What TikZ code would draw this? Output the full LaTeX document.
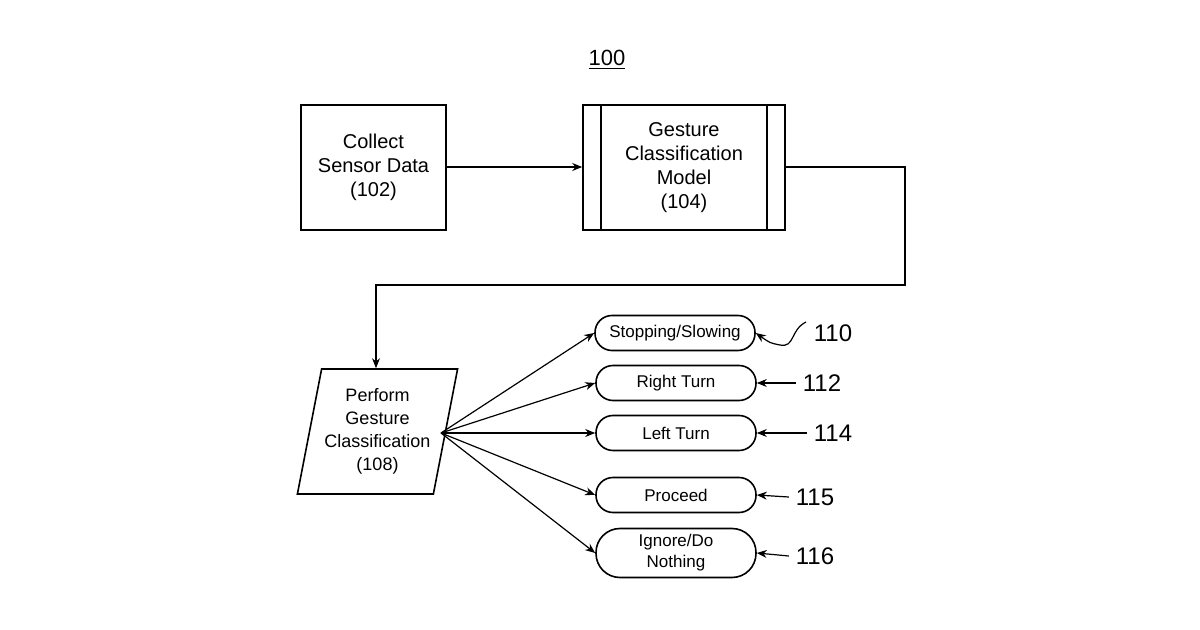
\documentclass[tikz,border=0pt]{standalone}
\usepackage{fontspec}
\setmainfont{Liberation Sans}
\usetikzlibrary{arrows.meta,shapes.geometric}
\begin{document}
\begin{tikzpicture}[x=0.5pt,y=-0.5pt,
  box/.style={draw,thick,minimum width=72.5pt,minimum height=62.5pt,align=center,font=\fontsize{10}{12}\selectfont,inner sep=0},
  pill/.style={draw,thick,rounded corners=8.5pt,minimum width=80pt,minimum height=17.5pt,align=center,font=\fontsize{8.5}{10.5}\selectfont,inner sep=1pt},
  arr/.style={-{Stealth[length=5pt,width=4pt]},semithick},
  lbl/.style={font=\fontsize{12}{14}\selectfont}]
\useasboundingbox (0,0) rectangle (1200,630);
\node[font=\fontsize{11}{13}\selectfont] (t) at (607,60) {\underline{100}};
\node[box] (b102) at (373.5,167.5) {Collect\\Sensor Data\\(102)};
\node[box,minimum width=101pt] (b104) at (684,167.5) {Gesture\\Classification\\Model\\(104)};
\draw[thick] (601,105)--(601,230) (767,105)--(767,230);
\node[trapezium,trapezium stretches=true,trapezium left angle=75,trapezium right angle=105,draw,thick,minimum width=80.5pt,minimum height=62.5pt,inner sep=0,align=center,font=\fontsize{9}{11.5}\selectfont] (b108) at (377.5,431.5) {Perform\\Gesture\\Classification\\(108)};
\coordinate (src) at (441,433);
\draw[arr] (b102.east|-0,167) -- (b104.west|-0,167);
\coordinate (c1) at (905,167); \coordinate (c2) at (905,285); \coordinate (c3) at (376,285);
\draw[arr] (b104.east|-0,167) -- (c1) -- (c2) -- (c3) -- (b108.north-|c3);
\node[pill] (p110) at (675,333) {Stopping/Slowing};
\node[pill] (p112) at (676,383) {Right Turn};
\node[pill] (p114) at (676,433) {Left Turn};
\node[pill] (p115) at (676,495) {Proceed};
\node[pill,minimum height=24.5pt,rounded corners=12pt] (p116) at (676,553) {Ignore/Do\\Nothing};
\foreach \p in {p110,p112,p114,p115,p116} \draw[arr] (src) -- (\p.west);
\node[lbl] (l110) at (833,333) {110};
\node[lbl] (l112) at (822,383) {112};
\node[lbl] (l114) at (833,433) {114};
\node[lbl] (l115) at (815,497) {115};
\node[lbl] (l116) at (815,556) {116};
\coordinate (w1) at (806,322);
\draw[arr] (w1) .. controls (790,330) and (795,348) .. (780,345) .. controls (770,343) .. (p110.east);
\draw[arr] (l112.west) -- (p112.east);
\draw[arr] (l114.west) -- (p114.east);
\draw[arr] (l115.west) -- (p115.east);
\draw[arr] (l116.west) -- (p116.east);
\end{tikzpicture}
\end{document}
